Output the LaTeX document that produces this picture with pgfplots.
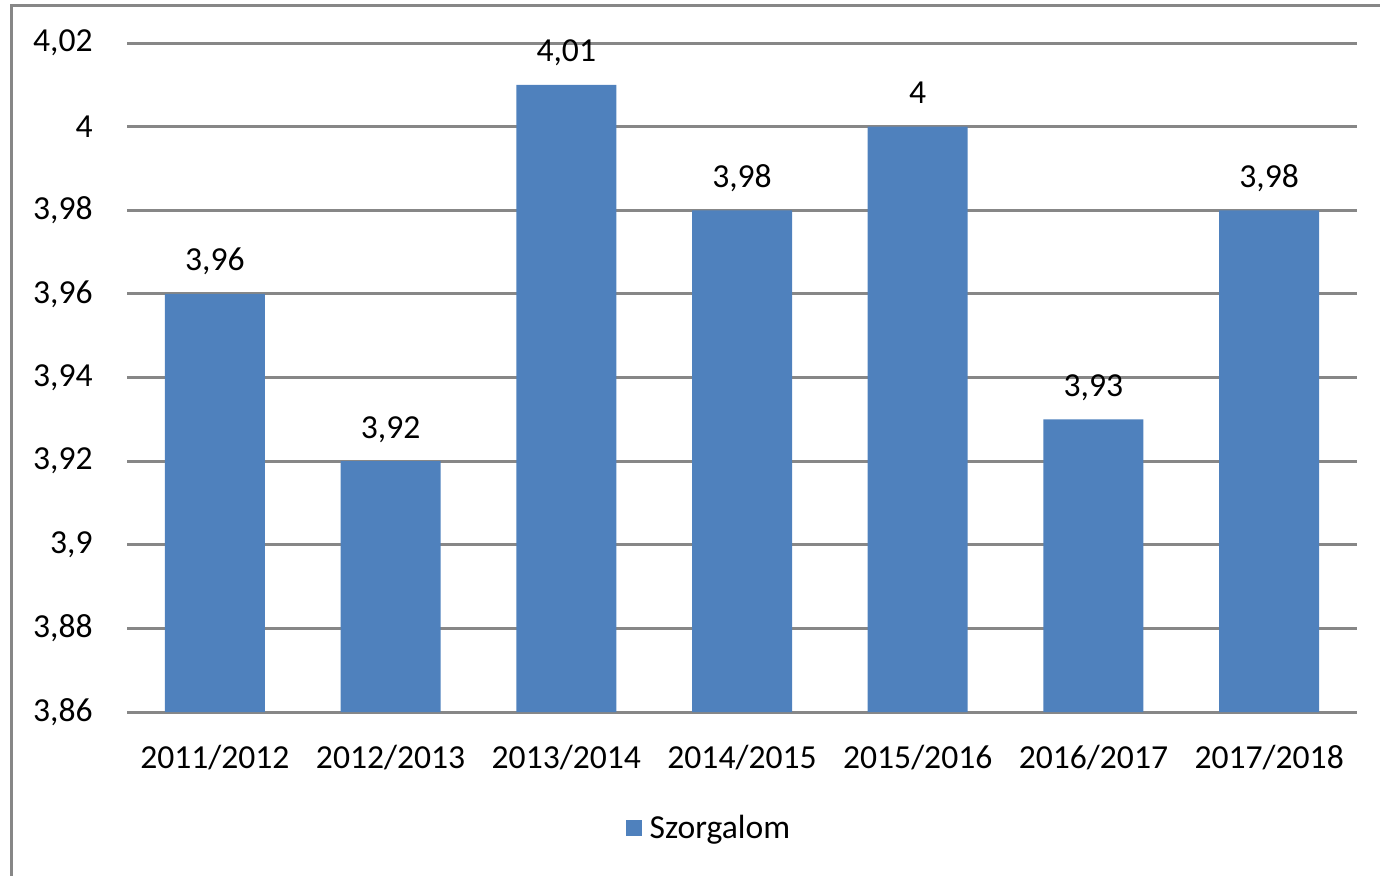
\documentclass[border=0pt]{standalone}
\usepackage{fontspec}
\setmainfont{Carlito}
\usepackage{pgfplots}
\pgfplotsset{compat=1.18}
\definecolor{barblue}{HTML}{4F81BD}
\definecolor{gridgray}{HTML}{878787}
\begin{document}
\begin{tikzpicture}
\useasboundingbox (0,0) rectangle (690pt,437.5pt);
\draw[gridgray, line width=1.5pt] (5.75pt,-2pt) -- (5.75pt,434.75pt) -- (692pt,434.75pt);
\begin{axis}[
  at={(63.5pt,81.5pt)}, anchor=south west,
  scale only axis, width=615pt, height=334.5pt,
  font=\fontsize{16.8}{20}\selectfont,
  ybar, bar width=50pt, bar shift=0pt,
  xmin=-0.5, xmax=6.5, ymin=3.86, ymax=4.02,
  ytick={3.86,3.88,3.9,3.92,3.94,3.96,3.98,4,4.02},
  xtick={0,1,2,3,4,5,6},
  xticklabels={2011/2012,2012/2013,2013/2014,2014/2015,2015/2016,2016/2017,2017/2018},
  /pgf/number format/use comma,
  /pgf/number format/assume math mode=true,
  yticklabel style={anchor=east, inner sep=0pt, xshift=-17pt},
  xticklabel style={anchor=north, inner sep=0pt, yshift=-16.5pt},
  major tick length=0pt,
  axis line style={draw=none},
  ymajorgrids, grid style={gridgray, line width=1.5pt},
  nodes near coords,
  nodes near coords style={anchor=base, inner sep=0pt, yshift=11.5pt, font=\fontsize{16.8}{20}\selectfont, /pgf/number format/use comma, /pgf/number format/assume math mode=true},
  legend style={at={(0.4756,-0.1734)}, anchor=center, draw=none, fill=none, font=\fontsize{16.8}{20}\selectfont, inner sep=0pt, nodes={inner xsep=4pt, inner ysep=0pt}},
  legend image code/.code={\fill[barblue] (0pt,-4pt) rectangle (8pt,4pt);},
]
\addplot[fill=barblue, draw=none] coordinates {(0,3.96) (1,3.92) (2,4.01) (3,3.98) (4,4.00) (5,3.93) (6,3.98)};
\addlegendentry{Szorgalom}
\end{axis}
\end{tikzpicture}
\end{document}
